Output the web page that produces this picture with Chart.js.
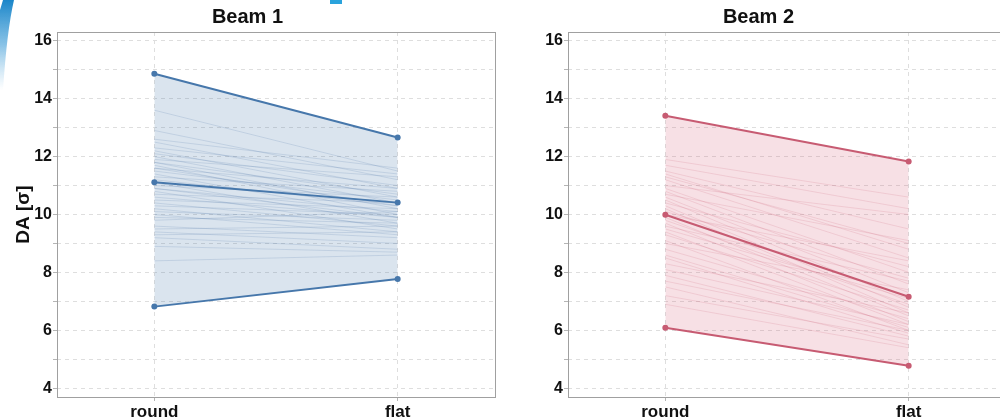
<!DOCTYPE html>
<html>
<head>
<meta charset="utf-8">
<script src="https://cdn.jsdelivr.net/npm/chart.js@4/dist/chart.umd.min.js"></script>
<style>
  html, body { margin: 0; padding: 0; background: #fff; overflow: hidden; }
  body { width: 1000px; height: 419px; position: relative; }
  .panel { position: absolute; top: 0; width: 530px; height: 419px; }
  #beam1Wrap { left: 0; }
  #beam2Wrap { left: 511px; }
  #deco { position: absolute; left: 0; top: 0; }
</style>
</head>
<body>
<div class="panel" id="beam1Wrap"><canvas id="beam1"></canvas></div>
<div class="panel" id="beam2Wrap"><canvas id="beam2"></canvas></div>
<svg id="deco" width="360" height="100">
  <defs>
    <linearGradient id="swoosh" x1="0" y1="0" x2="0" y2="1">
      <stop offset="0" stop-color="#1b86c9"/>
      <stop offset="0.5" stop-color="#3a9ad6" stop-opacity="0.6"/>
      <stop offset="1" stop-color="#6db4e0" stop-opacity="0"/>
    </linearGradient>
  </defs>
  <path d="M3 0 L14 0 Q7 30 3 90 L0 90 L0 10 Z" fill="url(#swoosh)"/>
  <rect x="330" y="0" width="12" height="4" fill="#2aa3dc"/>
</svg>
<script>
  var categories = ["round", "flat"];
  var yTicks = [4, 5, 6, 7, 8, 9, 10, 11, 12, 13, 14, 15, 16];

  // Beam 1: envelope (max / mean / min) and individual seeds
  var b1Max = [14.86, 12.66];
  var b1Mean = [11.11, 10.41];
  var b1Min = [6.82, 7.77];
  var b1Round = [13.6, 12.9, 12.6, 12.5, 12.2, 12.1, 12.0, 11.9, 11.8, 11.8,
                 11.7, 11.6, 11.5, 11.4, 11.3, 11.2, 11.1, 11.0, 10.9, 10.8,
                 10.7, 10.6, 10.5, 10.4, 10.3, 10.2, 10.1, 10.0, 9.9, 9.8,
                 9.6, 9.5, 9.4, 9.3, 9.2, 8.9, 8.4, 10.9, 11.6, 12.3];
  var b1Flat = [11.5, 11.2, 11.6, 10.9, 10.6, 11.0, 10.4, 11.3, 10.2, 10.7,
                10.0, 10.9, 10.5, 9.9, 10.8, 10.3, 9.7, 10.6, 10.1, 9.5,
                10.4, 9.9, 10.2, 9.6, 10.0, 9.4, 9.8, 9.3, 9.7, 10.1,
                9.2, 9.6, 9.0, 9.4, 8.8, 8.7, 8.6, 9.9, 10.3, 11.4];

  // Beam 2
  var b2Max = [13.41, 11.83];
  var b2Mean = [9.99, 7.16];
  var b2Min = [6.09, 4.78];
  var b2Round = [11.9, 11.7, 11.5, 11.3, 11.2, 11.0, 10.9, 10.8, 10.7, 10.6,
                 10.5, 10.4, 10.3, 10.2, 10.1, 9.9, 9.8, 9.7, 9.5, 9.4,
                 9.3, 9.1, 9.0, 8.8, 8.6, 8.5, 8.3, 8.1, 7.9, 7.7,
                 7.5, 7.2, 6.9, 11.4, 10.0, 9.6];
  var b2Flat = [10.6, 10.2, 9.5, 9.0, 8.5, 10.0, 8.0, 7.6, 9.1, 7.3,
                7.0, 8.2, 6.8, 6.6, 7.8, 6.5, 6.9, 6.3, 7.1, 6.2,
                6.7, 6.0, 7.4, 6.4, 6.1, 5.9, 6.6, 6.2, 5.8, 6.0,
                5.5, 5.7, 5.4, 8.8, 8.4, 7.7];

  var FONT = "'Liberation Sans', Arial, sans-serif";

  function pts(pair) {
    return pair.map(function (v, i) { return { x: i, y: v }; });
  }

  // full box around the plot area, like matplotlib spines
  var frame = {
    id: "frame",
    afterDraw: function (chart) {
      var a = chart.chartArea, c = chart.ctx;
      c.save();
      c.strokeStyle = "#a0a0a0";
      c.lineWidth = 1;
      c.strokeRect(a.left + 0.5, a.top + 0.5, a.right - a.left, a.bottom - a.top);
      c.restore();
    }
  };

  function buildChart(id, title, maxV, meanV, minV, rounds, flats, col, fillCol, seedCol, showYTitle) {
    var datasets = [
      { data: pts(maxV), borderColor: col, borderWidth: 2, pointRadius: 3,
        pointBackgroundColor: col, pointBorderWidth: 0, fill: 2, backgroundColor: fillCol },
      { data: pts(meanV), borderColor: col, borderWidth: 2, pointRadius: 3,
        pointBackgroundColor: col, pointBorderWidth: 0, fill: false },
      { data: pts(minV), borderColor: col, borderWidth: 2, pointRadius: 3,
        pointBackgroundColor: col, pointBorderWidth: 0, fill: false }
    ];
    rounds.forEach(function (r, i) {
      datasets.push({ data: pts([r, flats[i]]), borderColor: seedCol, borderWidth: 0.7,
        pointRadius: 0, fill: false });
    });

    var gridOpts = { color: "#dedede", tickLength: 4, tickColor: "#b5b5b5" };
    var borderOpts = { display: false, dash: [4, 4] };

    return new Chart(document.getElementById(id), {
      type: "line",
      data: { datasets: datasets },
      plugins: [frame],
      options: {
        responsive: false,
        animation: false,
        events: [],
        layout: { padding: { left: 0, right: 35, top: 0, bottom: 0 } },
        plugins: {
          legend: { display: false },
          tooltip: { enabled: false },
          filler: { drawTime: "beforeDatasetsDraw" },
          title: {
            display: true, text: title, color: "#111",
            font: { family: FONT, size: 20, weight: "bold" },
            padding: { top: 5, bottom: 3 }
          }
        },
        scales: {
          x: {
            type: "linear", min: -0.4, max: 1.4,
            afterBuildTicks: function (s) {
              s.ticks = categories.map(function (c, i) { return { value: i }; });
            },
            afterFit: function (s) { s.height = 22; },
            ticks: {
              color: "#111", padding: 1,
              font: { family: FONT, size: 17, weight: "bold" },
              callback: function (v) { return categories[v]; }
            },
            grid: gridOpts,
            border: borderOpts
          },
          y: {
            min: 3.7, max: 16.3,
            afterBuildTicks: function (s) {
              s.ticks = yTicks.map(function (v) { return { value: v }; });
            },
            afterFit: function (s) { s.width = 57; },
            ticks: {
              color: "#111", padding: 1,
              font: { family: FONT, size: 16, weight: "bold" },
              callback: function (v) { return v % 2 === 0 ? String(v) : ""; }
            },
            grid: gridOpts,
            border: borderOpts,
            title: {
              display: showYTitle, text: "DA [σ]", color: "#111",
              font: { family: FONT, size: 19, weight: "bold" },
              padding: { top: 12, bottom: 0 }
            }
          }
        }
      }
    });
  }

  ["beam1", "beam2"].forEach(function (id) {
    var cv = document.getElementById(id);
    cv.width = 530;
    cv.height = 419;
  });

  buildChart("beam1", "Beam 1", b1Max, b1Mean, b1Min, b1Round, b1Flat,
    "#4677ab", "rgba(70,119,171,0.2)", "rgba(70,110,160,0.25)", true);
  buildChart("beam2", "Beam 2", b2Max, b2Mean, b2Min, b2Round, b2Flat,
    "#c75b72", "rgba(214,98,124,0.2)", "rgba(200,90,115,0.25)", false);
</script>
</body>
</html>
